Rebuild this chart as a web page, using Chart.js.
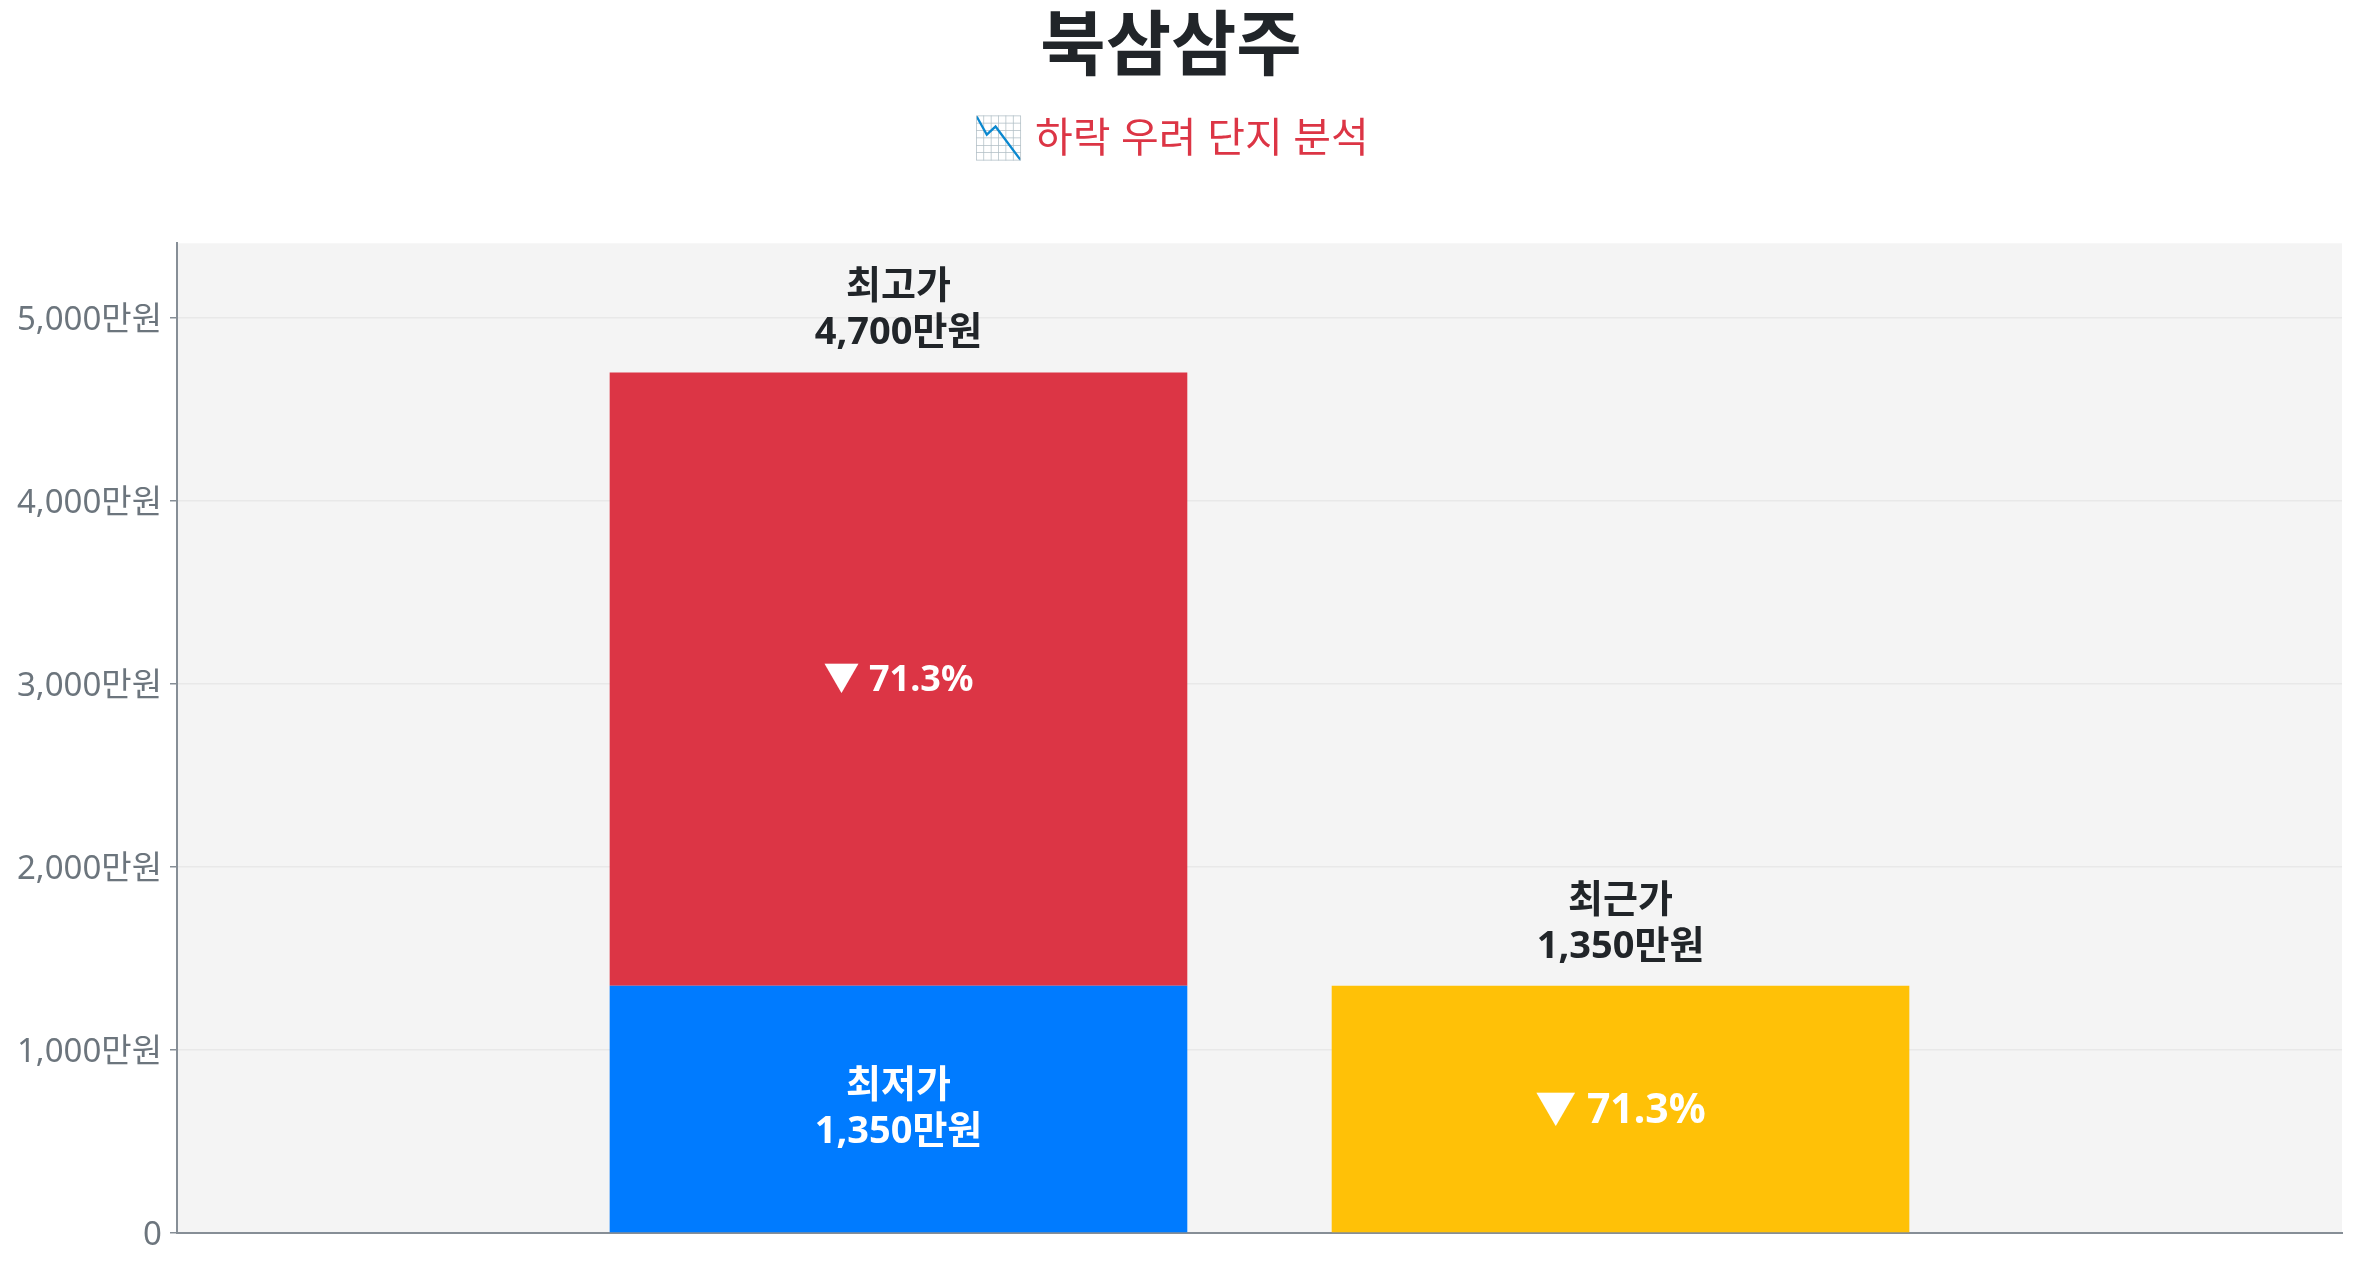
<!DOCTYPE html>
<html lang="ko">
<head>
<meta charset="utf-8">
<title>북삼삼주</title>
<script src="https://cdn.jsdelivr.net/npm/chart.js@4.4.1/dist/chart.umd.min.js"></script>
<style>
  html, body { margin: 0; padding: 0; background: #ffffff; overflow: hidden; }
  #wrap { width: 2357px; height: 1268px; }
</style>
</head>
<body>
<div id="wrap"><canvas id="c" width="2357" height="1268"></canvas></div>
<script>
const TITLE = '북삼삼주';
const SUBTITLE = '📉 하락 우려 단지 분석';
const categories = ['북삼삼주'];
const lowestPrice = [1350];
const peakPrice = [4700];
const recentPrice = [1350];
const dropRate = [71.3];
const yTickValues = [0, 1000, 2000, 3000, 4000, 5000];
const yMax = 5405;

const FONT = "'Noto Sans', 'Noto Sans CJK KR', sans-serif";
const COLORS = { red: '#dc3545', blue: '#007bff', yellow: '#ffc107', dark: '#212529', grey: '#6c757d', axis: '#868e96' };

const peakGap = peakPrice.map((v, i) => v - lowestPrice[i]);
const fmt = v => v.toLocaleString('en-US');

const plotBg = {
  id: 'plotBg',
  beforeDraw(chart) {
    const { ctx, chartArea: a } = chart;
    ctx.save();
    ctx.fillStyle = '#f4f4f4';
    ctx.fillRect(a.left, a.top, a.right - a.left, a.bottom - a.top);
    ctx.restore();
  }
};

function drawLines(ctx, lines, x, yCenter, lh) {
  const n = lines.length;
  lines.forEach((t, i) => {
    ctx.fillText(t, x, yCenter + (i - (n - 1) / 2) * lh);
  });
}

const barLabels = {
  id: 'barLabels',
  afterDatasetsDraw(chart) {
    const ctx = chart.ctx;
    ctx.save();
    ctx.textAlign = 'center';
    ctx.textBaseline = 'middle';
    const lowEl = chart.getDatasetMeta(0).data[0];
    const gapEl = chart.getDatasetMeta(1).data[0];
    const recEl = chart.getDatasetMeta(2).data[0];
    // lowest (blue)
    ctx.fillStyle = '#ffffff';
    ctx.font = `bold 38px ${FONT}`;
    drawLines(ctx, ['최저가', fmt(lowestPrice[0]) + '만원'], lowEl.x, (lowEl.y + lowEl.base) / 2, 46);
    // peak segment (red)
    ctx.font = `bold 36px ${FONT}`;
    drawLines(ctx, ['▼ ' + dropRate[0].toFixed(1) + '%'], gapEl.x, (gapEl.y + gapEl.base) / 2 + 2, 46);
    // recent (yellow)
    ctx.font = `bold 41px ${FONT}`;
    drawLines(ctx, ['▼ ' + dropRate[0].toFixed(1) + '%'], recEl.x, (recEl.y + recEl.base) / 2 + 2, 46);
    // top labels
    ctx.fillStyle = COLORS.dark;
    ctx.font = `bold 38px ${FONT}`;
    drawLines(ctx, ['최고가', fmt(peakPrice[0]) + '만원'], gapEl.x, gapEl.y - 62, 46);
    drawLines(ctx, ['최근가', fmt(recentPrice[0]) + '만원'], recEl.x, recEl.y - 62, 46);
    ctx.restore();
  }
};

new Chart(document.getElementById('c'), {
  type: 'bar',
  data: {
    labels: categories,
    datasets: [
      { label: '최저가', data: lowestPrice, backgroundColor: COLORS.blue, stack: 'hist' },
      { label: '최고가', data: peakGap, backgroundColor: COLORS.red, stack: 'hist' },
      { label: '최근가', data: recentPrice, backgroundColor: COLORS.yellow, stack: 'recent' }
    ]
  },
  options: {
    responsive: false,
    devicePixelRatio: 1,
    animation: false,
    datasets: { bar: { categoryPercentage: 0.667, barPercentage: 0.8, borderWidth: 0 } },
    layout: { padding: { left: 0, right: 15, top: 0, bottom: 35 } },
    plugins: {
      legend: { display: false },
      tooltip: { enabled: false },
      title: {
        display: true, text: TITLE, color: COLORS.dark,
        font: { family: FONT, size: 71, weight: 'bold', lineHeight: 1.1 },
        padding: { top: 10, bottom: 28 }
      },
      subtitle: {
        display: true, text: SUBTITLE, color: COLORS.red,
        font: { family: FONT, size: 41, weight: 'normal', lineHeight: 1.2 },
        padding: { top: 0, bottom: 78 }
      }
    },
    scales: {
      x: {
        stacked: true,
        grid: { display: false, drawTicks: false },
        border: { display: true, color: COLORS.axis, width: 2 },
        ticks: { display: false }
      },
      y: {
        stacked: true,
        min: 0, max: yMax,
        afterBuildTicks(scale) { scale.ticks = yTickValues.map(v => ({ value: v })); },
        afterFit(scale) { scale.width = 177; },
        grid: { color: '#e8e8e8', lineWidth: 1.5, tickColor: COLORS.axis, tickLength: 7 },
        border: { display: true, color: COLORS.axis, width: 2 },
        ticks: {
          color: COLORS.grey, padding: 8, labelOffset: 3,
          font: { family: FONT, size: 33, weight: 'normal' },
          callback: v => v === 0 ? '0' : fmt(v) + '만원'
        }
      }
    }
  },
  plugins: [plotBg, barLabels]
});
</script>
</body>
</html>
